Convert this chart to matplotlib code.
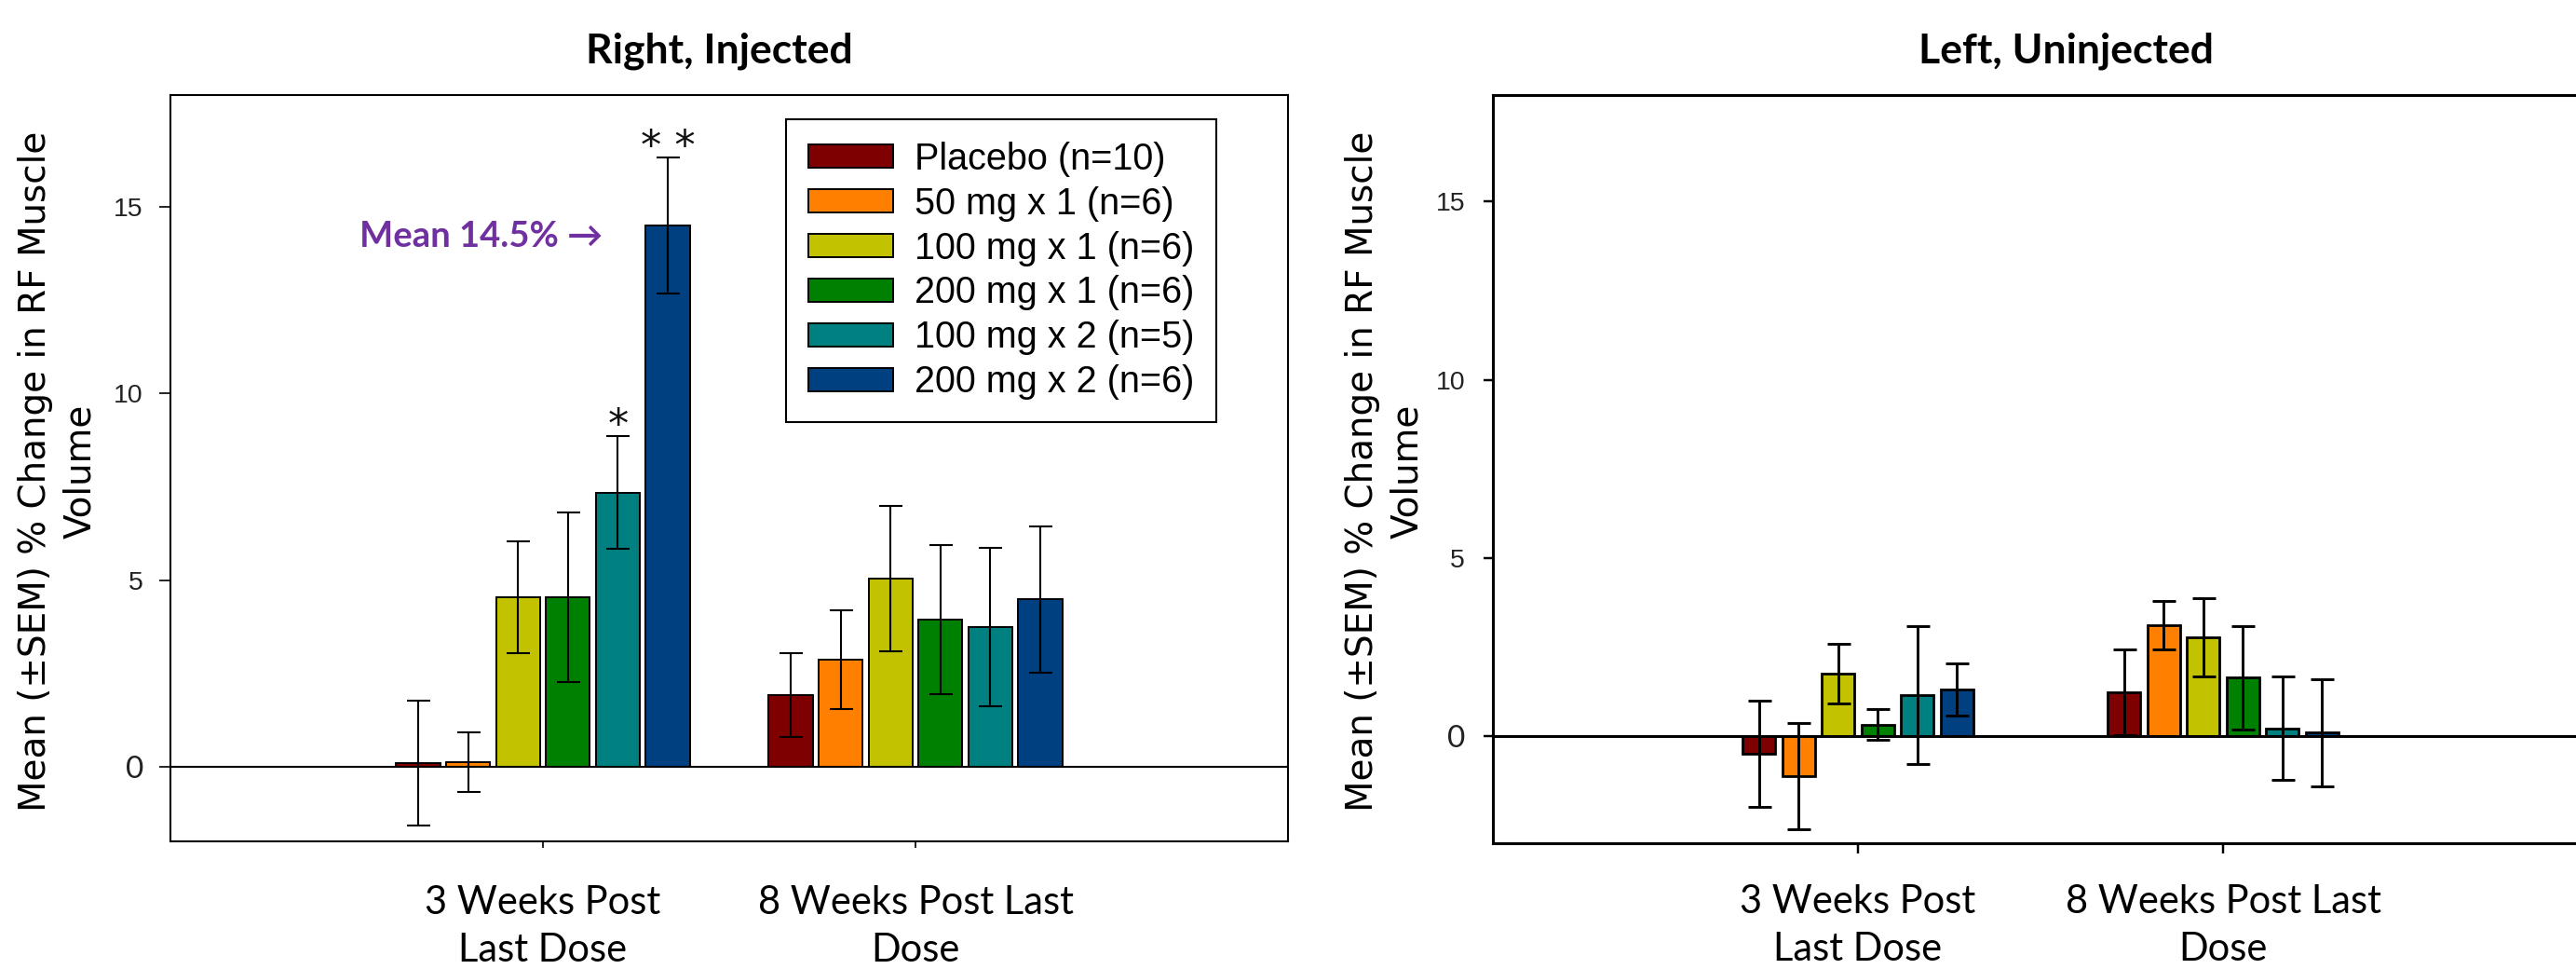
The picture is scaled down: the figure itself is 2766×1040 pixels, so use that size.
import matplotlib
matplotlib.use('Agg')
import matplotlib.pyplot as plt
import numpy as np

# ---------------- data ----------------
timepoints = ['3 Weeks Post\nLast Dose', '8 Weeks Post Last\nDose']
groups = ['Placebo (n=10)', '50 mg x 1 (n=6)', '100 mg x 1 (n=6)',
          '200 mg x 1 (n=6)', '100 mg x 2 (n=5)', '200 mg x 2 (n=6)']
colors = ['#7F0000', '#FF8000', '#C2C200', '#008000', '#008080', '#003F80']

# Right, injected leg: rows = timepoints, columns = groups
inj_mean = [[0.09, 0.12, 4.55, 4.55, 7.35, 14.5],
            [1.92, 2.87, 5.04, 3.95, 3.75, 4.48]]
inj_sem = [[1.67, 0.79, 1.50, 2.27, 1.52, 1.83],
           [1.13, 1.32, 1.94, 2.00, 2.12, 1.97]]

# Left, uninjected leg
uninj_mean = [[-0.48, -1.12, 1.76, 0.33, 1.16, 1.31],
              [1.23, 3.11, 2.77, 1.64, 0.22, 0.10]]
uninj_sem = [[1.49, 1.48, 0.84, 0.43, 1.94, 0.73],
             [1.21, 0.68, 1.10, 1.44, 1.45, 1.50]]

# significance marks on injected leg: (timepoint, group) -> mark
inj_sig = {(0, 4): '*', (0, 5): '* *'}
highlight_value = 14.5
yticks = [0, 5, 10, 15]
ylabel = 'Mean (\u00b1SEM) % Change in RF Muscle\nVolume'

# ---------------- figure ----------------
W, H = 2766, 1040
fig = plt.figure(figsize=(W / 100, H / 100), dpi=100)

ax1 = fig.add_axes([183 / W, (H - 903) / H, 1200 / W, 801 / H])
ax2 = fig.add_axes([1603 / W, (H - 905) / H, 1176 / W, 803.5 / H])


def draw(ax, means, sems, pitch, width, lw_bar, lw_err, lw_spine, ylim,
         tick_len_y, tick_pad_y, tick_len_x, tick_pad_x):
    xc = np.arange(1, len(timepoints) + 1)
    for gi, (name, col) in enumerate(zip(groups, colors)):
        x = xc + (gi - 2.5) * pitch
        m = [means[t][gi] for t in range(len(timepoints))]
        s = [sems[t][gi] for t in range(len(timepoints))]
        ax.bar(x, m, width, color=col, edgecolor='black', linewidth=lw_bar,
               label=name, zorder=2)
        ax.errorbar(x, m, yerr=s, fmt='none', ecolor='black',
                    elinewidth=lw_err, capsize=9, capthick=lw_err, zorder=4)
    ax.axhline(0, color='black', lw=lw_spine, zorder=3)
    ax.set_xlim(0, 3)
    ax.set_ylim(*ylim)
    ax.set_xticks(xc)
    ax.set_xticklabels(timepoints, fontfamily='Lato', fontsize=30,
                       linespacing=1.4)
    ax.set_yticks(yticks)
    ax.set_yticklabels([str(v) for v in yticks], fontfamily='Liberation Sans',
                       fontsize=20.5, color='#222222')
    ax.get_yticklabels()[0].set_fontfamily('Lato')
    ax.get_yticklabels()[0].set_fontsize(24)
    ax.tick_params(axis='y', direction='out', length=tick_len_y,
                   width=lw_spine * 0.8, pad=tick_pad_y)
    ax.tick_params(axis='x', direction='out', length=tick_len_x,
                   width=lw_spine * 0.8, pad=tick_pad_x)
    for sp in ax.spines.values():
        sp.set_linewidth(lw_spine)
    return xc


xc = draw(ax1, inj_mean, inj_sem, 0.134, 0.118, 1.4, 1.5, 1.5, (-2, 18),
          9, 12, 5, 29)
draw(ax2, uninj_mean, uninj_sem, 0.1085, 0.09, 2.0, 2.1, 2.2, (-3, 18),
     7.5, 14, 8, 24)

# significance stars
for (ti, gi), mark in inj_sig.items():
    x = xc[ti] + (gi - 2.5) * 0.134
    y = inj_mean[ti][gi] + inj_sem[ti][gi]
    ax1.text(x, y - 0.05, mark, ha='center', va='baseline', fontsize=32,
             family='DejaVu Sans', color='#111111', zorder=5)

# highlight annotation
ax1.text(1.16, 14.2, f'Mean {highlight_value}% \u2192', ha='right', va='center',
         color='#7030A0', fontsize=27.5, fontweight='bold',
         family=['Lato', 'DejaVu Sans'])

# legend
leg = ax1.legend(loc='upper left', bbox_to_anchor=(0.551, 0.9675),
                 borderaxespad=0, fancybox=False, edgecolor='black',
                 framealpha=1, prop={'family': 'Liberation Sans', 'size': 28.5},
                 handlelength=2.3, handleheight=0.6, handletextpad=0.58,
                 borderpad=0.6, labelspacing=0.25)
leg.get_frame().set_linewidth(1.5)

# titles
fig.text(772 / W, 1 - 55 / H, 'Right, Injected', ha='center', va='center',
         fontsize=32, fontweight='bold', family='Lato')
fig.text(2219 / W, 1 - 55 / H, 'Left, Uninjected', ha='center', va='center',
         fontsize=32, fontweight='bold', family='Lato')

# y labels
for xpix in (62, 1487):
    fig.text(xpix / W, 1 - 506 / H, ylabel, rotation=90, ha='center',
             va='center', multialignment='center', fontsize=28,
             family='DejaVu Sans', linespacing=1.35)

fig.savefig('out.png', dpi=100)
